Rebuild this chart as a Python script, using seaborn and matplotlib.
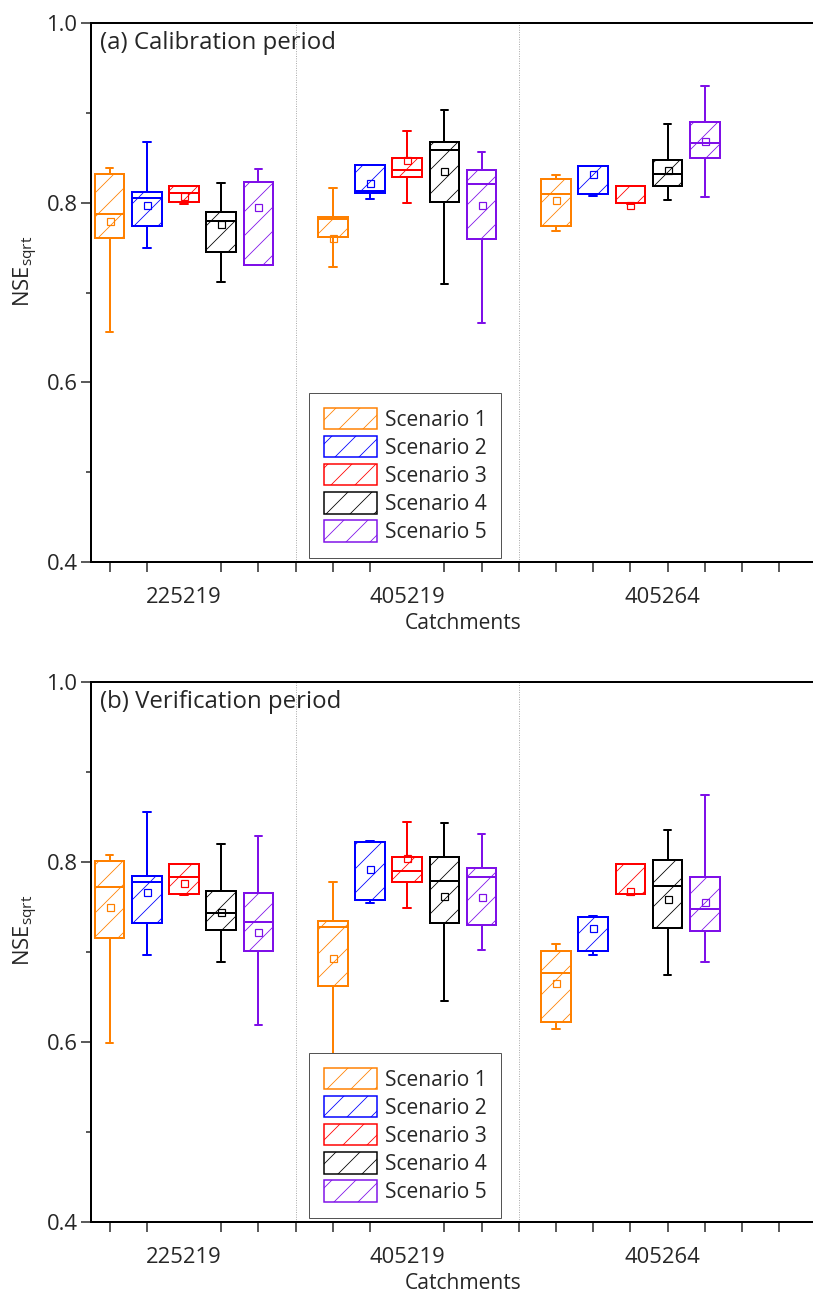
import numpy as np
import pandas as pd
import matplotlib
matplotlib.use("Agg")
import matplotlib.pyplot as plt
from matplotlib.patches import Patch
import seaborn as sns

# ---------- data ----------
catchments = ["225219", "405219", "405264"]
scenarios = ["Scenario 1", "Scenario 2", "Scenario 3", "Scenario 4", "Scenario 5"]
colors = ["#FF8000", "#0000FF", "#FF0000", "#000000", "#7F10E8"]

# rows = scenario, cols = catchment
cal_lo = [[0.656, 0.728, 0.769], [0.749, 0.804, 0.807], [0.799, 0.800, 0.799],
          [0.712, 0.710, 0.803], [0.731, 0.666, 0.806]]
cal_q1 = [[0.761, 0.762, 0.774], [0.774, 0.811, 0.810], [0.801, 0.829, 0.800],
          [0.745, 0.801, 0.818], [0.731, 0.760, 0.850]]
cal_med = [[0.787, 0.782, 0.810], [0.805, 0.813, 0.841], [0.811, 0.836, 0.800],
           [0.780, 0.859, 0.832], [0.823, 0.821, 0.866]]
cal_q3 = [[0.832, 0.784, 0.826], [0.812, 0.842, 0.841], [0.818, 0.850, 0.818],
          [0.790, 0.867, 0.847], [0.823, 0.836, 0.890]]
cal_hi = [[0.839, 0.816, 0.831], [0.868, 0.842, 0.841], [0.818, 0.880, 0.818],
          [0.822, 0.903, 0.888], [0.837, 0.856, 0.930]]
cal_mean = [[0.780, 0.761, 0.803], [0.797, 0.822, 0.832], [0.807, 0.848, 0.797],
            [0.776, 0.835, 0.836], [0.795, 0.797, 0.869]]

ver_lo = [[0.599, 0.575, 0.615], [0.697, 0.754, 0.697], [0.763, 0.749, 0.763],
          [0.689, 0.646, 0.674], [0.619, 0.702, 0.689]]
ver_q1 = [[0.716, 0.662, 0.622], [0.732, 0.758, 0.701], [0.764, 0.778, 0.765],
          [0.724, 0.732, 0.727], [0.701, 0.730, 0.723]]
ver_med = [[0.772, 0.728, 0.677], [0.778, 0.822, 0.739], [0.783, 0.790, 0.765],
           [0.743, 0.779, 0.773], [0.733, 0.783, 0.748]]
ver_q3 = [[0.801, 0.734, 0.701], [0.785, 0.822, 0.739], [0.798, 0.806, 0.798],
          [0.768, 0.806, 0.802], [0.766, 0.793, 0.783]]
ver_hi = [[0.808, 0.778, 0.709], [0.856, 0.823, 0.740], [0.798, 0.845, 0.798],
          [0.820, 0.843, 0.836], [0.829, 0.831, 0.874]]
ver_mean = [[0.750, 0.693, 0.666], [0.767, 0.792, 0.727], [0.777, 0.804, 0.768],
            [0.744, 0.762, 0.759], [0.722, 0.761, 0.756]]

panels = [
    ("(a) Calibration period", cal_lo, cal_q1, cal_med, cal_q3, cal_hi, cal_mean),
    ("(b) Verification period", ver_lo, ver_q1, ver_med, ver_q3, ver_hi, ver_mean),
]

# ---------- style ----------
sns.set_theme(style="ticks")
plt.rcParams["font.family"] = ["Open Sans", "DejaVu Sans"]
plt.rcParams["mathtext.fontset"] = "custom"
plt.rcParams["mathtext.rm"] = "Open Sans"
plt.rcParams["hatch.linewidth"] = 0.8

DPI = 72
fig = plt.figure(figsize=(813 / DPI, 1298 / DPI), dpi=DPI)
W, H = 813.0, 1298.0
# axes run past the right edge of the figure, like the reference crop
ax_boxes = [
    [91 / W, (H - 562) / H, 744 / W, 539 / H],
    [91 / W, (H - 1222) / H, 744 / W, 540 / H],
]

for (title, lo, q1, med, q3, hi, mean), box in zip(panels, ax_boxes):
    ax = fig.add_axes(box)

    for s, scen in enumerate(scenarios):
        pos = [6 * g + s + 1 for g in range(len(catchments))]
        rows = []
        for g in range(len(catchments)):
            for v in (lo[s][g], q1[s][g], med[s][g], q3[s][g], hi[s][g]):
                rows.append({"pos": pos[g], "val": v})
        df = pd.DataFrame(rows)

        sns.boxplot(data=df, x="pos", y="val", native_scale=True, orient="x",
                    width=0.8 / 6, whis=(0, 100), color=colors[s],
                    linecolor=colors[s], linewidth=2, saturation=1,
                    boxprops=dict(facecolor="none", hatch="/"),
                    capwidths=0.2, ax=ax)
        ax.plot(pos, mean[s], ls="none", marker="s", ms=7, mfc="none",
                mec=colors[s], mew=1.2, zorder=5)

    # dotted separators between catchments
    for xv in (6, 12):
        ax.axvline(xv, color="#9a9a9a", ls=":", lw=0.9, zorder=0)

    ax.set_xlim(0.5, 20.5)
    ax.set_ylim(0.4, 1.0)
    ax.set_yticks([0.4, 0.6, 0.8, 1.0])
    ax.set_yticks([0.5, 0.7, 0.9], minor=True)
    ax.set_yticklabels(["0.4", "0.6", "0.8", "1.0"])
    ax.set_xticks([3, 9, 15.85])
    ax.set_xticklabels(catchments)
    ax.set_xticks(np.arange(1, 21), minor=True)
    ax.tick_params(axis="x", which="major", length=0, pad=25, labelsize=22)
    ax.tick_params(axis="x", which="minor", length=10, width=1.5,
                   direction="out")
    ax.tick_params(axis="y", which="major", length=10, width=1.5,
                   labelsize=22, direction="out")
    ax.tick_params(axis="y", which="minor", length=5, width=1.5,
                   direction="out")

    for side in ("left", "bottom", "top"):
        ax.spines[side].set_linewidth(2)
        ax.spines[side].set_color("black")
    ax.spines["right"].set_visible(False)

    ax.set_xlabel("Catchments", fontsize=21, labelpad=5)
    ax.set_ylabel(r"NSE$_{\mathrm{sqrt}}$", fontsize=22)
    ax.yaxis.set_label_coords(-0.068, 0.54)

    ax.text(0.012, 0.985, title, transform=ax.transAxes, ha="left",
            va="top", fontsize=24)

    handles = [Patch(facecolor="none", edgecolor=c, hatch="/", lw=1.5)
               for c in colors]
    leg = ax.legend(handles, scenarios, loc="lower left",
                    bbox_to_anchor=(0.293, 0.008), borderaxespad=0,
                    fontsize=21, handlelength=2.55, handleheight=1.2,
                    handletextpad=0.35, labelspacing=0.25, borderpad=0.7,
                    fancybox=False, framealpha=1, edgecolor="#555555")
    leg.get_frame().set_linewidth(1)

fig.savefig("out.png", dpi=DPI)
